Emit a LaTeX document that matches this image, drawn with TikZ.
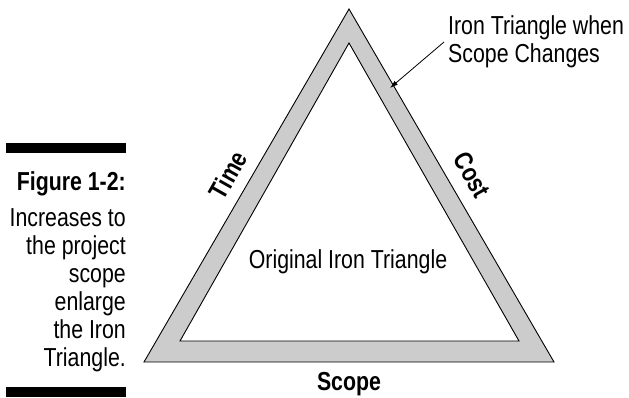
\documentclass[tikz,border=0pt]{standalone}
\usepackage{fontspec}
\setmainfont[FakeStretch=0.82]{Liberation Sans}
\usetikzlibrary{arrows.meta}
\begin{document}
\begin{tikzpicture}[x=1pt,y=1pt,
  txt/.style={inner sep=0pt,font=\fontsize{26}{28}\selectfont},
  bold/.style={inner sep=0pt,font=\fontsize{26}{28}\selectfont\bfseries},
  edge/.style={draw=black,line width=0.9pt,line join=miter},
  bar/.style={fill=black}]
\useasboundingbox (0,0) rectangle (629,397);
% bars
\fill[bar] (6,244) rectangle (126,254);
\fill[bar] (6,0) rectangle (126,10);
% triangles
\fill[fill=black!20,even odd rule]
  (144,35) -- (554,35) -- (349,388) -- cycle
  (180,56) -- (519,56) -- (349,354) -- cycle;
\draw[edge] (144,35) -- (554,35) -- (349,388) -- cycle;
\draw[edge] (180,56) -- (519,56) -- (349,354) -- cycle;
% caption
\node[bold,anchor=base east] (fig) at (126,207) {Figure 1-2:};
\node[txt,anchor=base east,align=right] (cap) at (126,31)
  {Increases to\\the project\\scope\\enlarge\\the Iron\\Triangle.};
% labels
\node[txt,anchor=base west,align=left] (lab) at (448,334)
  {Iron Triangle when\\Scope Changes};
\coordinate (from) at (444,355);
\coordinate (tip) at (390,309);
\draw[line width=0.8pt,-{Latex[length=8pt,width=5pt]}] (from) -- (tip);
\node[txt,anchor=base] (orig) at (348,129) {Original Iron Triangle};
\node[bold,anchor=base] (scope) at (349,7) {Scope};
\node[bold,rotate=60.6] (time) at (228,222) {Time};
\node[bold,rotate=-60.6] (cost) at (472,222) {Cost};
\end{tikzpicture}
\end{document}
